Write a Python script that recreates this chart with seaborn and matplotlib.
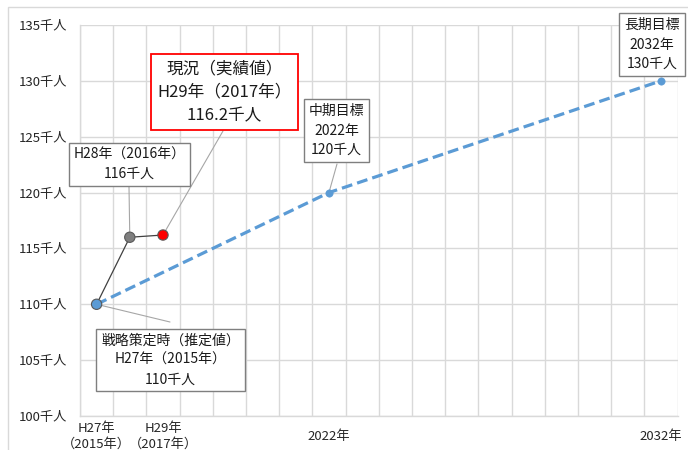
import matplotlib
matplotlib.use("Agg")
import matplotlib.pyplot as plt
import seaborn as sns
import pandas as pd
from matplotlib.patches import Rectangle

sns.set_theme(style="white")
plt.rcParams['font.family'] = ['Noto Sans CJK JP', 'DejaVu Sans']

# ---- data ----
actual_years = [2015, 2016, 2017]
actual_values = [110, 116, 116.2]
actual_colors = ['#5b9bd5', '#7f7f7f', '#ff0000']

target_years = [2015, 2022, 2032]
target_values = [110, 120, 130]

x_tick_years = [2015, 2017, 2022, 2032]
x_tick_labels = ['H27年\n（2015年）', 'H29年\n（2017年）', '2022年', '2032年']
y_ticks = [100, 105, 110, 115, 120, 125, 130, 135]
y_tick_labels = [f'{v}千人' for v in y_ticks]

annotations = [
    # text, point(year, value), box center (fig px), color, fontsize, leader end (fig px)
    ('現況（実績値）\nH29年（2017年）\n116.2千人', (2017, 116.2), (224.5, 358), '#ff0000', 12, (223, 319)),
    ('H28年（2016年）\n116千人', (2016, 116), (129.5, 285.5), '#7f7f7f', 10, (129, 263)),
    ('戦略策定時（推定値）\nH27年（2015年）\n110千人', (2015, 110), (170.5, 90), '#7f7f7f', 10, (170, 128)),
    ('中期目標\n2022年\n120千人', (2022, 120), (336.5, 319.5), '#7f7f7f', 10, (337, 286)),
    ('長期目標\n2032年\n130千人', (2032, 130), (652, 405.5), '#7f7f7f', 10, None),
]

actual_df = pd.DataFrame({'year': actual_years, 'value': actual_values, 'k': ['a', 'b', 'c']})
target_df = pd.DataFrame({'year': target_years, 'value': target_values})

fig = plt.figure(figsize=(6.88, 4.5), dpi=100)
fig.patch.set_facecolor('white')
fig.patches.append(Rectangle((8 / 688, -0.1), 1.2, (450 - 7) / 450 + 0.1, transform=fig.transFigure,
                             fill=False, edgecolor='#d9d9d9', linewidth=1.0, zorder=0))
ax = fig.add_axes([80 / 688, (450 - 416) / 450, (677.5 - 80) / 688, (416 - 25) / 450])
ax.set_facecolor('none')

# target dashed line
sns.lineplot(data=target_df, x='year', y='value', ax=ax, color='#5b9bd5', linewidth=2.3,
             dashes=False, zorder=3, legend=False)
ax.lines[-1].set_dashes((3.4, 1.6))
sns.scatterplot(data=target_df, x='year', y='value', ax=ax, color='#5b9bd5', s=28,
                edgecolor='#5b9bd5', zorder=4, legend=False)

# actual line
sns.lineplot(data=actual_df, x='year', y='value', ax=ax, color='#404040', linewidth=0.9,
             zorder=5, legend=False)
sns.scatterplot(data=actual_df, x='year', y='value', hue='k', palette=actual_colors, ax=ax,
                s=55, edgecolor='#595959', linewidth=0.8, zorder=6, legend=False)

ax.set_xlim(2014.5, 2032.5)
ax.set_ylim(100, 135)
ax.set_xticks([y + 0.5 for y in range(2014, 2033)], minor=True)
ax.set_xticks(x_tick_years)
ax.set_xticklabels(x_tick_labels, fontsize=9.5, linespacing=1.25)
for lbl in ax.get_xticklabels():
    lbl.set_va('center')
ax.set_yticks(y_ticks)
ax.set_yticklabels(y_tick_labels, fontsize=9.5)
ax.tick_params(axis='x', which='both', length=0, pad=14.5)
ax.tick_params(axis='y', length=0, pad=9.5)
ax.grid(False)
ax.grid(True, axis='x', which='minor', color='#d9d9d9', linewidth=1.0, zorder=0)
ax.grid(True, axis='y', which='major', color='#d9d9d9', linewidth=1.0, zorder=0)
ax.set_xlabel('')
ax.set_ylabel('')
for s in ['top', 'right']:
    ax.spines[s].set_visible(False)
for s in ['left', 'bottom']:
    ax.spines[s].set_color('#d9d9d9')
    ax.spines[s].set_linewidth(1.0)

for text, pt, center, ec, fs, lead in annotations:
    if lead is not None:
        ax.annotate('', xy=pt, xycoords='data', xytext=lead, textcoords='figure pixels',
                    arrowprops=dict(arrowstyle='-', color='#a6a6a6', linewidth=0.8,
                                    shrinkA=0, shrinkB=0), zorder=2)
    ax.annotate(text, xy=center, xycoords='figure pixels', ha='center', va='center',
                fontsize=fs, linespacing=1.5, color='#1a1a1a', zorder=7,
                bbox=dict(boxstyle='square,pad=0.35', facecolor='white', edgecolor=ec,
                          linewidth=1.3 if ec == '#ff0000' else 1.0))

fig.savefig('out.png', dpi=100)
